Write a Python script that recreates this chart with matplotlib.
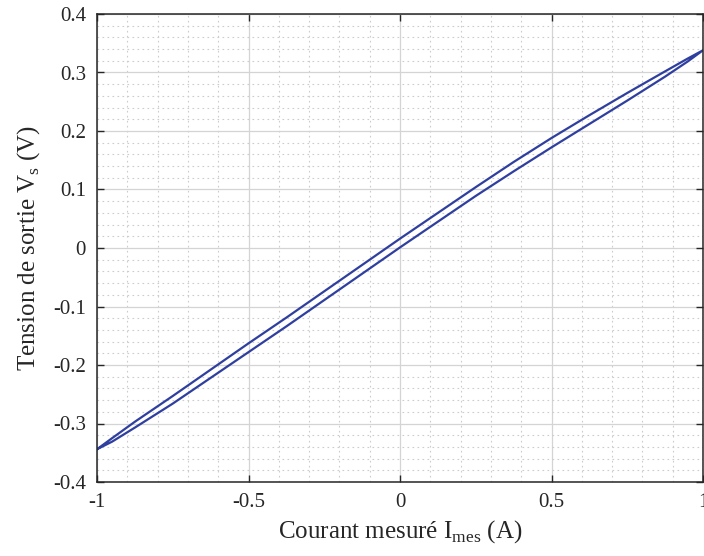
import matplotlib.pyplot as plt
from matplotlib.ticker import MultipleLocator, FormatStrFormatter

plt.rcParams['font.family'] = ['Liberation Serif', 'DejaVu Serif']
plt.rcParams['mathtext.fontset'] = 'custom'
plt.rcParams['mathtext.rm'] = 'Liberation Serif'
plt.rcParams['axes.unicode_minus'] = False

# courant mesuré (A) et branches du cycle (V)
i_mes = [-1.0, -0.95, -0.875, -0.75, -0.625, -0.5, -0.375, -0.25, -0.125,
         0.0, 0.125, 0.25, 0.375, 0.5, 0.625, 0.75, 0.875, 0.95, 1.0]
v_haut = [-0.344, -0.325, -0.297, -0.253, -0.208, -0.163, -0.119, -0.074, -0.029,
          0.016, 0.060, 0.104, 0.147, 0.188, 0.227, 0.265, 0.302, 0.324, 0.338]
v_bas = [-0.344, -0.331, -0.307, -0.266, -0.222, -0.178, -0.134, -0.089, -0.044,
         0.001, 0.045, 0.089, 0.131, 0.172, 0.212, 0.252, 0.293, 0.319, 0.338]

x = i_mes + i_mes[::-1]
y = v_haut + v_bas[::-1]

fig = plt.figure(figsize=(7.04, 5.56), dpi=100)
ax = fig.add_axes([97 / 704, 74 / 556, 606 / 704, 468 / 556])

ax.plot(x, y, color='#2f3f9f', lw=1.6)

ax.set_xlim(-1, 1)
ax.set_ylim(-0.4, 0.4)
ax.xaxis.set_major_locator(MultipleLocator(0.5))
ax.xaxis.set_minor_locator(MultipleLocator(0.1))
ax.yaxis.set_major_locator(MultipleLocator(0.1))
ax.yaxis.set_minor_locator(MultipleLocator(0.02))
ax.xaxis.set_major_formatter(FormatStrFormatter('%g'))
ax.yaxis.set_major_formatter(FormatStrFormatter('%g'))

ax.grid(which='major', color='#d4d4d4', lw=0.9, ls='-')
ax.grid(which='minor', color='#cccccc', lw=0.8, ls=(0, (1.5, 3)))
ax.set_axisbelow(True)

ax.tick_params(which='major', direction='in', length=5, width=1, top=True, right=True,
               labelsize=15, colors='#262626', pad=8)
ax.tick_params(which='minor', length=0)
for s in ax.spines.values():
    s.set_color('#262626')
    s.set_linewidth(1.1)

ax.set_xlabel('Courant mesuré I$_{\\mathrm{mes}}$ (A)', fontsize=18, color='#262626', labelpad=4)
ax.set_ylabel('Tension de sortie V$_{\\mathrm{s}}$ (V)', fontsize=18, color='#262626', labelpad=8)

plt.savefig('out.png', dpi=100)
